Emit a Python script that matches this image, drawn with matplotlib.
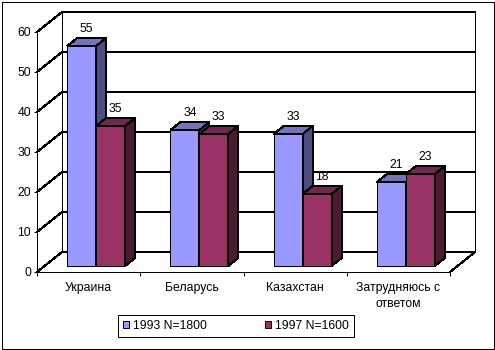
import matplotlib
matplotlib.use("Agg")
import matplotlib.pyplot as plt
from matplotlib.patches import Polygon, Rectangle, Patch
from matplotlib.lines import Line2D

# ---- data ---------------------------------------------------------------
categories = ["Украина", "Беларусь", "Казахстан", "Затрудняюсь с\nответом"]
series_names = ["1993 N=1800", "1997 N=1600"]
values_1993 = [55, 34, 33, 21]
values_1997 = [35, 33, 18, 23]
y_ticks = [0, 10, 20, 30, 40, 50, 60]

# ---- style --------------------------------------------------------------
W, H, DPI = 495, 350, 100
plt.rcParams["font.family"] = ["Liberation Sans", "DejaVu Sans"]
FS = 8.8
LW = 0.72
face = {"1993": ("#9999FF", "#7373BF", "#4D4D80"),
        "1997": ("#993366", "#732650", "#4D1A33")}

fig = plt.figure(figsize=(W / DPI, H / DPI), dpi=DPI)
fig.patch.set_facecolor("white")

# front plane of the 3-D box
ax = fig.add_axes([37 / W, 78 / H, 413 / W, 240 / H])
ax.set_xlim(-0.5, len(categories) - 0.5)
ax.set_ylim(y_ticks[0], y_ticks[-1])
ax.patch.set_visible(False)

# depth vector (pixels right / up) converted to data units
p0 = ax.transData.transform((0, 0))
p1 = ax.transData.transform((1, 1))
ux, uy = p1 - p0
DX, DY = 25 / ux, 20 / uy


def P(x, v, d):
    return (x + d * DX, v + d * DY)


def seg(pts, z=1):
    xs, ys = zip(*pts)
    ax.add_line(Line2D(xs, ys, color="black", lw=LW, clip_on=False,
                       antialiased=False, zorder=z))


x_lo, x_hi = -0.5, len(categories) - 0.5
top = y_ticks[-1]
# back wall gridlines and the diagonals on the left side wall
for v in y_ticks:
    seg([P(x_lo, v, 0), P(x_lo, v, 1), P(x_hi, v, 1)])
seg([P(x_lo, 0, 1), P(x_lo, top, 1)])
seg([P(x_hi, 0, 1), P(x_hi, top, 1)])
seg([P(x_hi, 0, 0), P(x_hi, 0, 1)])

# bars
w = 0.28
d0, d1 = 0.3, 0.7
z = 2
for i in range(len(categories)):
    for s, (key, vals) in enumerate([("1993", values_1993), ("1997", values_1997)]):
        v = vals[i]
        x0 = i - w + s * w
        x1 = x0 + w
        cf, ct, cs = face[key]
        polys = [
            ([P(x0, 0, d0), P(x1, 0, d0), P(x1, v, d0), P(x0, v, d0)], cf),
            ([P(x0, v, d0), P(x1, v, d0), P(x1, v, d1), P(x0, v, d1)], ct),
            ([P(x1, 0, d0), P(x1, 0, d1), P(x1, v, d1), P(x1, v, d0)], cs),
        ]
        for pts, c in polys:
            ax.add_patch(Polygon(pts, closed=True, facecolor=c, edgecolor="black",
                                 lw=LW, clip_on=False, antialiased=False, zorder=z))
        z += 1
        ax.annotate(str(v), xy=P((x0 + x1) / 2, v, 0.5), xytext=(0, 7),
                    textcoords="offset pixels", ha="center", va="bottom",
                    fontsize=FS, annotation_clip=False, zorder=20)

# axes: front floor edge and value axis
for side in ("top", "right"):
    ax.spines[side].set_visible(False)
for side in ("left", "bottom"):
    ax.spines[side].set_linewidth(LW)
    ax.spines[side].set_antialiased(False)

ax.set_yticks(y_ticks)
ax.set_yticklabels([str(t) for t in y_ticks], fontsize=FS)
ax.tick_params(axis="y", direction="out", length=2.2, width=LW, pad=2.2)

ax.set_xticks([i - 0.5 for i in range(len(categories) + 1)])
ax.set_xticklabels([])
ax.set_xticks(range(len(categories)), minor=True)
ax.set_xticklabels(categories, minor=True, fontsize=FS, linespacing=1.45)
ax.tick_params(axis="x", which="major", direction="out", length=2.9, width=LW)
ax.tick_params(axis="x", which="minor", length=0, pad=7.2)

# legend
handles = [Patch(facecolor=face[k][0], edgecolor="black", lw=LW) for k in ("1993", "1997")]
leg = fig.legend(handles, series_names, loc="lower left",
                 bbox_to_anchor=(118 / W, 13 / H), ncol=2, fontsize=FS,
                 frameon=True, fancybox=False, shadow=False, framealpha=1,
                 edgecolor="black", handlelength=0.5, handleheight=0.55,
                 handletextpad=0.3, columnspacing=4.8, borderpad=0.4,
                 borderaxespad=0)
leg.get_frame().set_linewidth(LW)

# chart border
fig.add_artist(Rectangle((1.5 / W, 1.5 / H), 492 / W, 347 / H,
                         transform=fig.transFigure, fill=False,
                         edgecolor="black", lw=LW, antialiased=False))

fig.savefig("out.png", dpi=DPI, facecolor="white")
